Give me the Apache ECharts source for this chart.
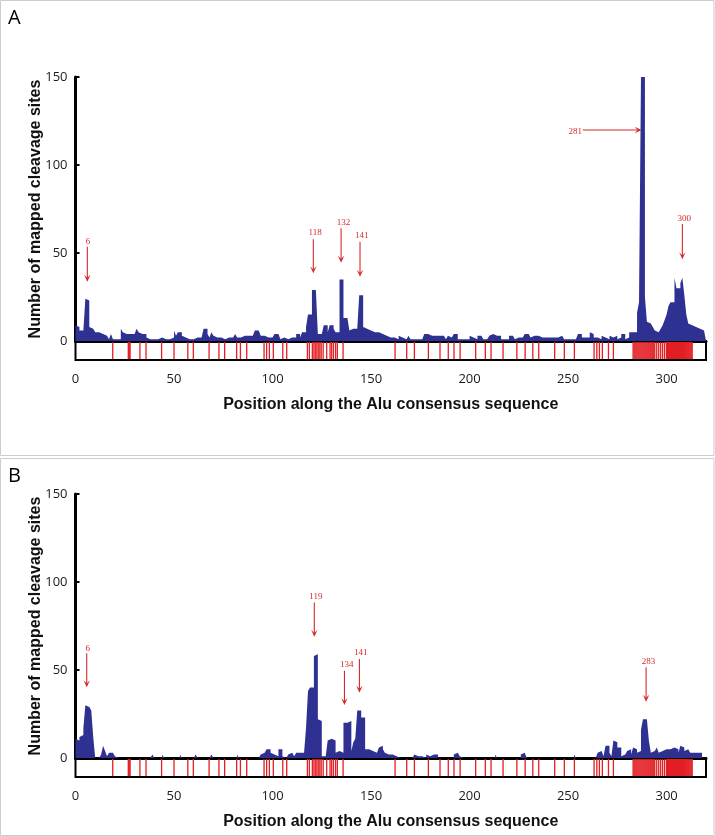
<!DOCTYPE html>
<html><head><meta charset="utf-8">
<script src="https://cdn.jsdelivr.net/npm/echarts@6/dist/echarts.min.js"></script>
<style>html,body{margin:0;padding:0;background:#fff}#c{width:715px;height:836px}</style>
</head><body><div id="c"></div><script>
// Counts of mapped cleavage sites per position (bin i covers [i, i+1])
const countsA = [
 9,8,6,6,6,24,23,8,7,6,5,5,4,4,4,3,3,1,4,1,
 1,1,1,7,5,4,4,4,3,4,5,7,5,4,4,4,2,1,1,1,
 1,1,1,2,1,1,2,1,2,2,6,3,5,5,3,2,2,1,2,1,
 1,2,1,2,2,7,7,4,2,5,3,2,1,2,1,1,1,2,2,2,
 2,4,2,2,3,3,3,3,3,3,3,6,6,6,3,3,3,2,3,2,
 2,4,4,4,1,2,1,1,2,2,2,2,4,4,2,5,5,8,15,15,
 29,29,30,4,4,5,9,9,5,9,9,7,5,5,35,35,13,13,13,6,
 7,7,7,7,26,26,8,7,6,6,5,5,5,5,5,4,4,3,3,2,
 3,2,3,1,3,2,3,1,2,3,1,1,1,1,1,1,1,4,4,3,
 3,2,3,2,3,2,3,2,1,3,2,3,4,4,1,1,2,1,2,1,
 3,2,2,1,3,3,2,1,1,1,3,4,3,3,2,3,1,1,2,1,
 3,3,2,1,2,1,2,1,4,4,3,2,3,2,3,3,2,3,2,3,
 2,3,2,3,2,1,3,2,1,1,1,1,1,1,1,4,4,2,2,1,
 2,5,4,2,2,3,1,3,2,2,1,3,2,1,3,1,2,4,4,1,
 2,5,5,4,5,16,22,150,150,25,11,10,9,8,6,5,6,7,9,12,
 15,20,22,22,36,30,30,33,36,26,15,10,9,8,8,8,7,7,6,6
];
const countsB = [
 11,10,12,13,17,30,29,28,27,12,0,0,0,2,7,4,1,3,3,3,
 1,0,0,0,0,0,0,0,0,0,0,0,0,0,0,0,0,0,0,2,
 0,0,0,0,2,0,0,0,0,0,0,0,0,2,0,0,0,0,0,0,
 0,2,0,0,0,0,0,0,0,2,0,0,0,0,0,0,0,0,0,0,
 0,0,2,0,0,0,0,0,0,0,0,0,0,0,2,3,3,5,5,3,
 2,1,1,5,5,1,0,1,2,3,2,1,3,3,2,3,3,17,38,40,
 40,58,59,22,21,1,1,1,10,11,11,10,3,4,3,3,20,20,21,21,
 4,9,11,27,27,23,23,5,5,5,4,3,3,4,6,7,5,3,2,2,
 2,2,1,0,0,0,0,0,0,0,0,1,2,1,2,1,0,0,2,1,
 2,2,1,2,0,0,0,0,0,0,0,0,2,3,3,1,0,0,0,0,
 0,0,0,0,0,0,0,0,0,0,0,0,0,2,0,0,0,0,0,0,
 0,0,0,0,0,0,2,3,2,0,0,0,0,0,0,0,0,0,0,0,
 0,0,0,0,0,0,0,0,0,0,0,0,0,2,0,0,0,0,0,0,
 0,0,0,0,0,3,4,4,1,7,7,3,1,10,9,6,6,1,2,2,
 4,5,2,6,5,3,4,16,22,22,21,10,3,4,5,6,3,4,3,5,
 6,5,5,6,6,5,3,7,6,4,5,4,3,3,2,3,3,3,0,0
];
// Sequence feature positions shown as red lines in the strip (same for both panels)
const sitePositions = [
 18.9,26.8,27.3,27.7,32.7,35.8,43.7,50,57,59.8,67.8,72.8,75.7,81.8,83.7,86.9,
 95.7,97,98.4,100.4,105.2,107.2,117.7,118.7,120.2,121,121.7,122.5,123.2,124,124.7,125.7,
 127.5,129.2,130,130.9,132,132.9,135.8,
 162.2,168.1,172,179.1,185,189.2,192.1,195.2,203.1,208,210.9,217,224,228.2,232.1,235.1,
 243.2,248.1,253.2,263.2,264.6,265.9,267.4,270.5,273,
 283,283.5,284,284.5,285,285.5,286,286.5,287,287.5,288,288.5,289,289.5,290,290.5,
 291,291.5,292,292.5,293,293.5,294,295,296,297,298,299,300,300.5,301,301.5,302,302.5,
 303,303.5,304,304.5,305,305.5,306,306.5,307,307.5,308,308.5,309,309.5,310,310.5,
 311,311.5,312,312.5,313
];
const xTicks = [0,50,100,150,200,250,300];
const yTicks = [0,50,100,150];
// Annotation arrows: [xStart, yStart, xEnd, yEnd, xLabel, yLabel]
const annLabelsA = ['6','118','132','141','281','300'];
const annArrowsA = [
 [6,53.6,6,33.7,6.3,56.4],
 [120.7,57.8,120.7,38.5,121.6,61.5],
 [134.8,64,134.8,44.5,136,67.4],
 [144.4,56.4,144.4,36.5,145.3,59.7],
 [257.5,119.9,287.3,119.9,253.6,119.2],
 [308,66.5,308,46.4,308.9,69.3]
];
const annLabelsB = ['6','119','134','141','283'];
const annArrowsB = [
 [5.7,59.5,5.7,40.2,6.2,62.3],
 [121.2,88.3,121.2,68.9,122,91.7],
 [136.5,49.6,136.5,30.1,137.7,52.8],
 [144.1,56.2,144.1,37.1,144.8,59.8],
 [289.6,51.5,289.6,32,290.8,54.7]
];

const NAVY = '#2e3192', RED = '#e31e24', ARED = '#d42a2a';
const chart = echarts.init(document.getElementById('c'), null, {renderer:'canvas'});

function histData(arr){
  const d = arr.map((v,i)=>[i,v]);
  d.push([arr.length, arr[arr.length-1]]);
  return d;
}
function lineItem(params, api){
  const x = api.value(0);
  const p1 = api.coord([x, 0.05]), p2 = api.coord([x, 0.95]);
  return {type:'line', shape:{x1:p1[0],y1:p1[1],x2:p2[0],y2:p2[1]}, style:{stroke:RED, lineWidth:1.3}};
}
function annItem(labels){
  return function(params, api){
    const s = api.coord([api.value(0), api.value(1)]);
    const e = api.coord([api.value(2), api.value(3)]);
    const l = api.coord([api.value(4), api.value(5)]);
    const dx=e[0]-s[0], dy=e[1]-s[1], len=Math.hypot(dx,dy), ux=dx/len, uy=dy/len;
    const hl=7, hw=3.2, nx=-uy, ny=ux;
    const bx=e[0]-ux*hl, by=e[1]-uy*hl;
    return {type:'group', children:[
      {type:'line', shape:{x1:s[0],y1:s[1],x2:e[0]-ux*3,y2:e[1]-uy*3}, style:{stroke:ARED, lineWidth:1.1}},
      {type:'polygon', shape:{points:[[e[0],e[1]],[bx+nx*hw,by+ny*hw],[e[0]-ux*hl*0.55,e[1]-uy*hl*0.55],[bx-nx*hw,by-ny*hw]]}, style:{fill:ARED}},
      {type:'text', x:l[0], y:l[1], style:{text:labels[params.dataIndex], fill:ARED, font:'9px "Liberation Serif"', align:'center', verticalAlign:'middle'}}
    ]};
  };
}

const L = 75.5, W = 630.5;
const tickFont = {fontFamily:'Open Sans', fontSize:13, color:'#1a1a1a'};
const nameFont = {fontFamily:'Liberation Sans', fontSize:16, fontWeight:'bold', color:'#111'};

function mainX(gi){ return {gridIndex:gi, type:'value', min:0, max:320, axisLine:{show:true, onZero:false, lineStyle:{color:'#000', width:3}}, axisTick:{show:false}, axisLabel:{show:false}, splitLine:{show:false}}; }
function stripX(gi){ return {gridIndex:gi, type:'value', min:0, max:320, axisLine:{show:false}, axisTick:{show:false},
  axisLabel:Object.assign({margin:13, customValues:xTicks}, tickFont), splitLine:{show:false},
  name:'Position along the Alu consensus sequence', nameLocation:'middle', nameGap:37, nameMoveOverlap:false, nameTextStyle:nameFont}; }
function mainY(gi){ return {gridIndex:gi, type:'value', min:0, max:150, interval:50,
  axisLine:{show:true, lineStyle:{color:'#000', width:3}}, axisTick:{show:true, inside:true, length:4, lineStyle:{color:'#000', width:2}, customValues:yTicks},
  axisLabel:Object.assign({margin:8, customValues:yTicks}, tickFont), splitLine:{show:false},
  name:'Number of mapped cleavage sites', nameLocation:'middle', nameGap:32, nameMoveOverlap:false, nameTextStyle:nameFont}; }
function stripY(gi){ return {gridIndex:gi, type:'value', min:0, max:1, show:false}; }

const option = {
  animation:false,
  backgroundColor:'#fff',
  grid:[
    {left:L, top:77, width:W, height:264},
    {left:L, top:341, width:W, height:19, show:true, borderColor:'#000', borderWidth:2, backgroundColor:'#fff'},
    {left:L, top:494, width:W, height:264},
    {left:L, top:758, width:W, height:19, show:true, borderColor:'#000', borderWidth:2, backgroundColor:'#fff'}
  ],
  xAxis:[mainX(0), stripX(1), mainX(2), stripX(3)],
  yAxis:[mainY(0), stripY(1), mainY(2), stripY(3)],
  graphic:[
    {type:'rect', shape:{x:0.5,y:0.5,width:713.5,height:455}, style:{fill:'none', stroke:'#cccccc', lineWidth:1}},
    {type:'rect', shape:{x:0.5,y:458.5,width:713.5,height:377}, style:{fill:'none', stroke:'#cccccc', lineWidth:1}},
    {type:'text', x:8, y:8, style:{text:'A', font:'20px "Open Sans"', fill:'#000'}},
    {type:'text', x:8, y:466, style:{text:'B', font:'20px "Open Sans"', fill:'#000'}}
  ],
  series:[
    {type:'line', xAxisIndex:0, yAxisIndex:0, step:'end', symbol:'none', data:histData(countsA),
     lineStyle:{width:0, color:NAVY}, areaStyle:{color:NAVY, opacity:1}, z:2},
    {type:'custom', xAxisIndex:1, yAxisIndex:1, data:sitePositions.map(x=>[x]), renderItem:lineItem, z:3},
    {type:'custom', xAxisIndex:0, yAxisIndex:0, data:annArrowsA, renderItem:annItem(annLabelsA), clip:false, z:4},
    {type:'line', xAxisIndex:2, yAxisIndex:2, step:'end', symbol:'none', data:histData(countsB),
     lineStyle:{width:0, color:NAVY}, areaStyle:{color:NAVY, opacity:1}, z:2},
    {type:'custom', xAxisIndex:3, yAxisIndex:3, data:sitePositions.map(x=>[x]), renderItem:lineItem, z:3},
    {type:'custom', xAxisIndex:2, yAxisIndex:2, data:annArrowsB, renderItem:annItem(annLabelsB), clip:false, z:4}
  ]
};
chart.setOption(option);
</script></body></html>
